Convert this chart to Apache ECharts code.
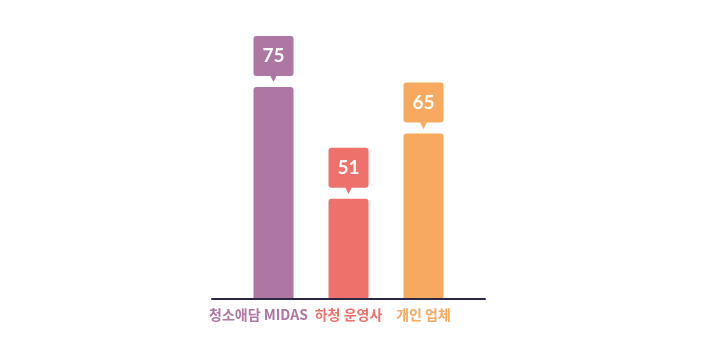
<!DOCTYPE html>
<html>
<head>
<meta charset="utf-8">
<script src="https://cdn.jsdelivr.net/npm/echarts@6/dist/echarts.min.js"></script>
<style>
html,body{margin:0;padding:0;background:#fff;}
#chart{width:714px;height:345px;}
</style>
</head>
<body>
<div id="chart"></div>
<script>
// Data
const categories = ['청소애담 MIDAS', '하청 운영사', '개인 업체'];
const values = [75, 51, 65];
const colors = ['#AD76A3', '#EE716C', '#F7AA5F'];

const chart = echarts.init(document.getElementById('chart'), null, {renderer: 'canvas'});

const barData = values.map((v, i) => ({
  value: v,
  itemStyle: {color: colors[i]},
  label: {
    rich: {
      box: {
        backgroundColor: colors[i],
        borderRadius: 3,
        width: 40,
        height: 40,
        lineHeight: 40,
        align: 'center',
        color: '#fff',
        fontSize: 19,
        fontWeight: 'bold',
        fontFamily: 'Lato'
      },
      arr: {
        color: colors[i],
        fontSize: 9,
        lineHeight: 6,
        height: 6,
        align: 'center',
        fontFamily: 'DejaVu Sans'
      }
    }
  }
}));

const option = {
  animation: false,
  grid: [
    {left: 236, right: 253, top: 87, bottom: 46},
    {left: 212, right: 229, top: 87, bottom: 46}
  ],
  xAxis: [
    {
      type: 'category',
      gridIndex: 0,
      data: categories,
      axisLine: {show: false},
      axisTick: {show: false},
      axisLabel: {
        interval: 0,
        hideOverlap: false,
        margin: 9,
        formatter: (val, idx) => '{c' + idx + '|' + val + '}',
        rich: {
          c0: {color: colors[0], fontSize: 14, fontWeight: 'bold', fontFamily: 'Noto Sans CJK KR', padding: [0, 30, 0, 0]},
          c1: {color: colors[1], fontSize: 14, fontWeight: 'bold', fontFamily: 'Noto Sans CJK KR'},
          c2: {color: colors[2], fontSize: 14, fontWeight: 'bold', fontFamily: 'Noto Sans CJK KR'}
        }
      }
    },
    {
      type: 'value',
      gridIndex: 1,
      min: 0,
      max: 1,
      z: 5,
      axisLine: {show: true, lineStyle: {color: '#2B2747', width: 2}},
      axisTick: {show: false},
      axisLabel: {show: false},
      splitLine: {show: false}
    }
  ],
  yAxis: [
    {type: 'value', gridIndex: 0, min: 29.5, max: 75, show: false, splitLine: {show: false}},
    {type: 'value', gridIndex: 1, min: 0, max: 1, show: false, splitLine: {show: false}}
  ],
  series: [
    {
      type: 'bar',
      xAxisIndex: 0,
      yAxisIndex: 0,
      barWidth: 40,
      data: barData,
      itemStyle: {borderRadius: [3, 3, 0, 0]},
      label: {
        show: true,
        position: 'top',
        distance: 5,
        formatter: (p) => '{box|' + p.value + '}\n{arr|▼}'
      }
    }
  ]
};
chart.setOption(option);
</script>
</body>
</html>
